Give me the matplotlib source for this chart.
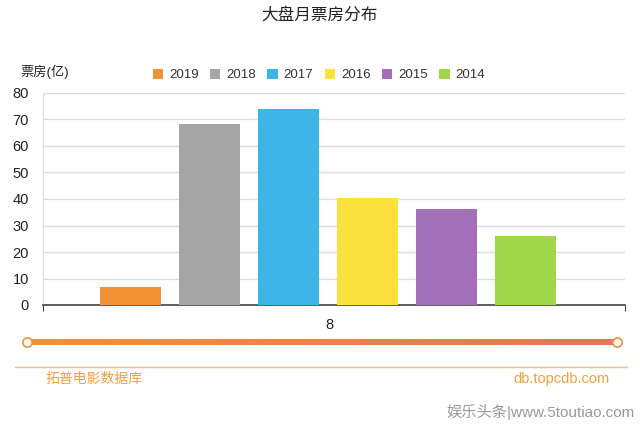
import numpy as np
import matplotlib.pyplot as plt
from matplotlib.colors import LinearSegmentedColormap

plt.rcParams['font.family'] = ['Liberation Sans', 'Noto Sans CJK SC', 'DejaVu Sans']

# data
years = ["2019", "2018", "2017", "2016", "2015", "2014"]
box_office = [6.8, 68.4, 73.8, 40.5, 36.3, 26.1]
colors = ["#f39234", "#a5a5a5", "#3fb4e6", "#fbe040", "#a46fb9", "#9fd64a"]
category = ["8"]
yticks = [0, 10, 20, 30, 40, 50, 60, 70, 80]

fig = plt.figure(figsize=(6.4, 4.24), dpi=100)
ax = fig.add_axes([43 / 640, 1 - 305 / 424, 582 / 640, 212 / 424])

step = 0.1357
width = 0.105
for i, (yr, val, c) in enumerate(zip(years, box_office, colors)):
    ax.bar(0 + (i - 2.5) * step - 0.01, val, width=width, color=c, label=yr, zorder=3)

ax.set_xlim(-0.5, 0.5)
ax.set_ylim(0, 80)
ax.set_yticks(yticks)
ax.tick_params(axis='y', length=0, labelsize=10.5, colors="#222222", pad=10)
ax.set_xticks([-0.5, 0.5])
ax.set_xticklabels(["", ""])
ax.tick_params(axis='x', length=4, color="#444444")
ax.text(0.492, -0.06, category[0], transform=ax.transAxes, ha='center', va='top',
        fontsize=10.5, color="#222222")
ax.grid(axis='y', color="#dddddd", linewidth=1, zorder=0)
for s in ["top", "right"]:
    ax.spines[s].set_visible(False)
ax.spines["left"].set_color("#dddddd")
ax.spines["bottom"].set_color("#444444")
ax.spines["bottom"].set_linewidth(1.2)

leg = fig.legend(loc='center', bbox_to_anchor=(319 / 640, 1 - 75 / 424), ncol=6,
                 frameon=False, fontsize=9.5, handlelength=0.8, handleheight=0.8,
                 handletextpad=0.45, columnspacing=0.85)
for t in leg.get_texts():
    t.set_color("#333333")

fig.text(320 / 640, 1 - 15 / 424, "大盘月票房分布", ha='center', va='center',
         fontsize=12, color="#222222")
fig.text(20 / 640, 1 - 72 / 424, "票房(亿)", ha='left', va='center',
         fontsize=9.5, color="#222222")

# decorations: slider, footer
deco = fig.add_axes([0, 0, 1, 1], zorder=-1)
deco.set_xlim(0, 640)
deco.set_ylim(424, 0)
deco.axis('off')
cmap = LinearSegmentedColormap.from_list("sl", ["#f0923c", "#ee7256"])
grad = np.linspace(0, 1, 256).reshape(1, -1)
deco.imshow(grad, cmap=cmap, extent=[27, 617, 345, 339], aspect='auto')
deco.scatter([27, 617], [342, 342], s=45, facecolor="#fff8ee", edgecolor="#f0923c",
             linewidth=1.2, zorder=5)
deco.plot([15, 627], [367, 367], color="#f2c08a", linewidth=1)
fig.text(45 / 640, 1 - 379 / 424, "拓普电影数据库", ha='left', va='center',
         fontsize=10, color="#f0a040")
fig.text(610 / 640, 1 - 379 / 424, "db.topcdb.com", ha='right', va='center',
         fontsize=10.5, color="#f0a040")
fig.text(635 / 640, 1 - 412 / 424, "娱乐头条|www.5toutiao.com", ha='right', va='center',
         fontsize=11, color="#999999")

fig.savefig("out.png", dpi=100)
